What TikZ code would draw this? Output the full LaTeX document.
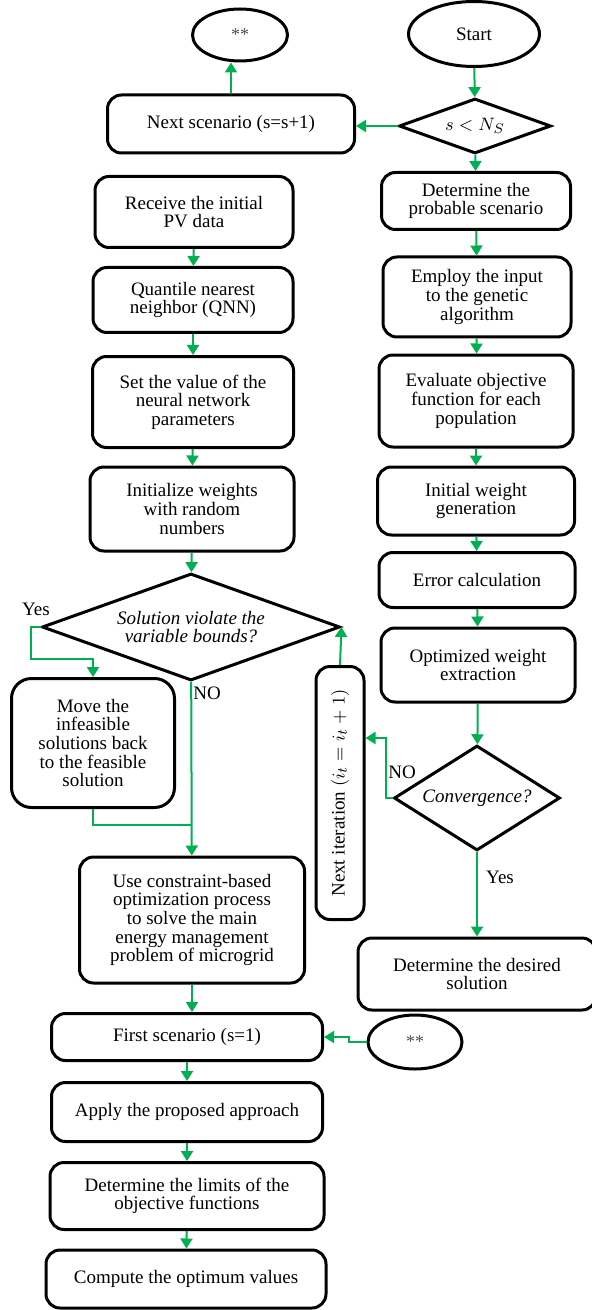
\documentclass[tikz,border=0pt]{standalone}
\usepackage{fontspec}
\setmainfont{Liberation Serif}
\usepackage{graphicx}
\usetikzlibrary{arrows.meta, shapes.geometric, calc}
\definecolor{flowgreen}{RGB}{0,176,80}
\tikzset{
	txt/.style={font=\fontsize{9.5}{9.3}\selectfont},
	box/.style={draw, line width=1.5pt, rounded corners=7pt, align=center, inner sep=2pt, txt},
	decision/.style={draw, diamond, line width=1.5pt, inner sep=0pt, align=center, txt},
	terminal/.style={draw, ellipse, line width=1.5pt, inner sep=0pt, txt},
	dims/.style 2 args={minimum width=#1*0.5pt, minimum height=#2*0.5pt},
	flow/.style={draw=flowgreen, line width=1pt, -{Triangle[length=5pt, width=6pt]}},
	flowline/.style={draw=flowgreen, line width=1pt},
	lbl/.style={inner sep=0pt, txt}
}
\begin{document}
\begin{tikzpicture}[x=0.5pt, y=-0.5pt]
	\useasboundingbox[fill=white] (0,0) rectangle (591,1310);
	% right column
	\node[terminal, dims={131}{65}] (start) at (474,34) {Start};
	\node[decision, dims={152}{55}, aspect=2.76] (cond) at (475,126) {$s<N_S$};
	\node[box, dims={189}{57}] (probable) at (476,201) {Determine the\\probable scenario};
	\node[box, dims={188}{80}] (employ) at (477,297) {Employ the input\\to the genetic\\algorithm};
	\node[box, dims={194}{92}] (evaluate) at (476,401) {Evaluate objective\\function for each\\population};
	\node[box, dims={197}{68}] (initw) at (476,501) {Initial weight\\generation};
	\node[box, dims={196}{55}] (error) at (477,580) {Error calculation};
	\node[box, dims={194}{74}] (optw) at (478,665) {Optimized weight\\extraction};
	\node[decision, dims={166}{105}, aspect=1.58, font=\fontsize{9.5}{9.3}\selectfont\itshape] (conv) at (477,798) {Convergence?};
	\node[box, dims={238}{72}] (desired) at (477,974) {Determine the desired\\solution};
	\node[box, dims={48}{253}] (nextit) at (340,793) {\rotatebox{90}{Next iteration $(i_t=i_t+1)$}};
	% left column
	\node[terminal, dims={95}{52}, font=\small, text=black!70] (star1) at (240,35) {**};
	\node[box, dims={247}{58}] (nextsc) at (231,124) {Next scenario (s=s+1)};
	\node[box, dims={198}{71}] (receive) at (194,212) {Receive the initial\\PV data};
	\node[box, dims={200}{65}] (quantile) at (193,300) {Quantile nearest\\neighbor (QNN)};
	\node[box, dims={201}{91}] (setval) at (193,402) {Set the value of the\\neural network\\parameters};
	\node[box, dims={204}{84}] (init) at (192,509) {Initialize weights\\with random\\numbers};
	\node[decision, dims={298}{107}, aspect=2.8, font=\fontsize{9.5}{9.3}\selectfont\itshape] (sol) at (191,627) {Solution violate the\\variable bounds?};
	\node[box, dims={163}{129}, rounded corners=10pt] (move) at (93,743) {Move the\\infeasible\\solutions back\\to the feasible\\solution};
	\node[box, dims={225}{126}] (use) at (192,920) {Use constraint-based\\optimization process\\to solve the main\\energy management\\problem of microgrid};
	\node[box, dims={271}{47}] (first) at (187,1037) {First scenario (s=1)};
	\node[terminal, dims={94}{54}, font=\small, text=black!70] (star2) at (415,1042) {**};
	\node[box, dims={271}{59}] (apply) at (187,1112) {Apply the proposed approach};
	\node[box, dims={274}{67}] (limits) at (187,1196) {Determine the limits of the\\objective functions};
	\node[box, dims={280}{58}] (compute) at (186,1279) {Compute the optimum values};
	% bends
	\coordinate (yesbend) at (93,659);
	\coordinate (join) at (191,825);
	\coordinate (nobend) at (386,738);
	% connectors
	\foreach \a/\b in {start/cond, cond/probable, probable/employ, employ/evaluate, evaluate/initw, initw/error, error/optw, optw/conv, conv/desired, receive/quantile, quantile/setval, setval/init, init/sol, sol/use, first/apply, apply/limits, limits/compute}{
		\draw[flow] (\a) -- (\b);
	};
	\draw[flow] (cond.west) -- (cond.west -| nextsc.east);
	\draw[flow] (nextsc.north) -- (nextsc.north |- star1.south);
	\draw[flow] (conv.west) -| (nobend) -- (nobend -| nextit.east);
	\draw[flow] (nextit.north) -- (sol.east);
	\draw[flow] (sol.west) -- ++(-10,0) |- (yesbend) -- (move.north);
	\draw[flowline] (move.south) |- (join);
	\draw[flow] (use.south) -- (use.south |- first.north);
	\draw[flow] (star2.west) -- ++(-18,0) |- (first.east);
	% labels
	\node[lbl] (yes1) at (36,609) {Yes};
	\node[lbl] (no1) at (207,693) {NO};
	\node[lbl] (no2) at (402,772) {NO};
	\node[lbl] (yes2) at (500,877) {Yes};
\end{tikzpicture}
\end{document}
